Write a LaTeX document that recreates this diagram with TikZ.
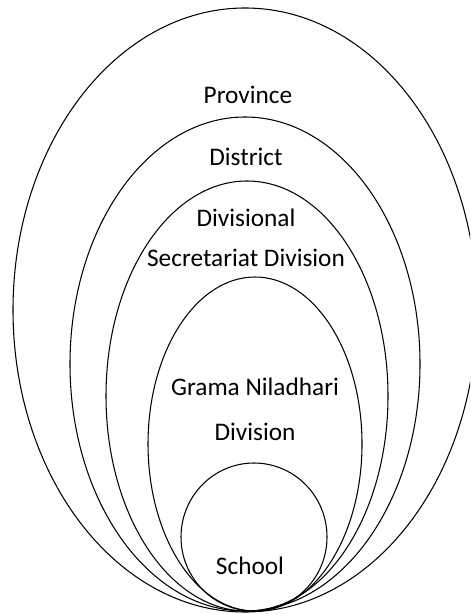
\documentclass[tikz,border=0pt]{standalone}
\usepackage{fontspec}
\setmainfont{Carlito}
\begin{document}
\begin{tikzpicture}[x=0.02cm, y=-0.02cm]
        \tikzstyle{ring}=[draw, line width=0.6pt]
        \tikzstyle{label}=[inner sep=0pt, font=\fontsize{14.4pt}{22.7pt}\selectfont, align=center]

        \useasboundingbox (0,0) rectangle (470,614);
        \clip (0,0) rectangle (470,614);

        \draw[ring] (245,310) ellipse [x radius=232, y radius=302];
        \draw[ring] (245,364) ellipse [x radius=175, y radius=247];
        \draw[ring] (247,396) ellipse [x radius=141, y radius=215];
        \draw[ring] (255,444) ellipse [x radius=107, y radius=167];
        \draw[ring] (254,537) ellipse [x radius=73, y radius=74];

        \node[label] (province) at (248,95) {Province};
        \node[label] (district) at (246,157) {District};
        \node[label] (divsec) at (246,238) {Divisional\\Secretariat Division};
        \node[label] (grama) at (255,409) {Grama Niladhari\\[2.8pt]Division};
        \node[label] (school) at (250,566) {School};
    \end{tikzpicture}
\end{document}
